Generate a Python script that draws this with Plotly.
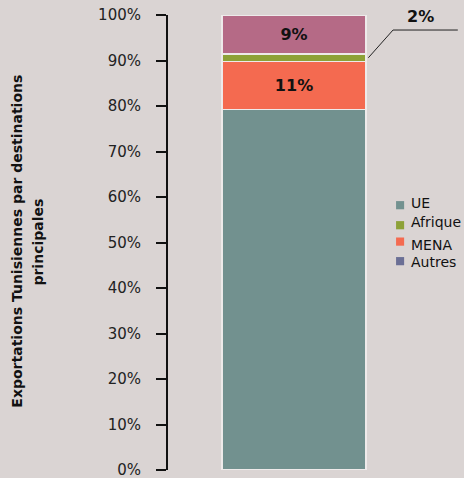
import plotly.graph_objects as go

# Share of Tunisian exports by main destination (%)
category = ["Exportations"]
segments = ["UE", "MENA", "Afrique", "Autres"]
values = [79.2, 10.6, 1.6, 8.6]
bar_colors = ["#72918f", "#f46a50", "#8da137", "#b56a86"]
legend_names = ["UE", "Afrique", "MENA", "Autres"]
legend_colors = ["#72918f", "#8da137", "#f46a50", "#6b6f95"]
labelled = {"MENA", "Autres"}
tick_vals = list(range(0, 101, 10))
tick_text = [f"{v}%" for v in tick_vals]
title_lines = ["Exportations Tunisiennes par destinations", "principales"]

bg = "#dad4d3"
fig = go.Figure()

for name, val, col in zip(segments, values, bar_colors):
    fig.add_trace(go.Bar(
        x=category, y=[val], name=name,
        marker=dict(color=col, line=dict(color="#eeeaea", width=1.5)),
        text=[f"{val:.0f}%"] if name in labelled else None,
        textposition="inside", insidetextanchor="middle",
        textfont=dict(family="DejaVu Sans", size=16, color="#111111", weight="bold"),
        width=0.57, showlegend=False, hoverinfo="skip",
    ))

# compact legend: small squares with labels
legend_sq_y = [0.582, 0.538, 0.502, 0.459]
legend_tx_y = [0.586, 0.544, 0.494, 0.457]
for name, col, sy, ty in zip(legend_names, legend_colors, legend_sq_y, legend_tx_y):
    fig.add_shape(type="rect", xref="paper", yref="paper",
                  x0=0.905, x1=0.937, y0=sy - 0.009, y1=sy + 0.009,
                  fillcolor=col, line=dict(width=0))
    fig.add_annotation(text=name, xref="paper", yref="paper", x=0.957, y=ty,
                       xanchor="left", yanchor="middle", showarrow=False,
                       font=dict(family="DejaVu Sans", size=14, color="#111111"))

# leader line for the small Afrique share
afr_mid = values[0] + values[1] + values[2] / 2
elbow_y = values[0] + values[1] + values[2] + 5.3
fig.add_shape(type="line", xref="paper", yref="y", x0=0.795, y0=afr_mid, x1=0.893, y1=elbow_y,
              line=dict(color="#222222", width=1))
fig.add_shape(type="line", xref="paper", yref="y", x0=0.893, y0=elbow_y, x1=1.15, y1=elbow_y,
              line=dict(color="#222222", width=1))
fig.add_annotation(x=1.063, y=elbow_y, xref="paper", yref="y", text=f"<b>{values[2]:.0f}%</b>",
                   showarrow=False, yanchor="bottom", yshift=2,
                   font=dict(family="DejaVu Sans", size=16, color="#111111"))

# vertical axis title, two lines
for line, xp in zip(title_lines, [-0.599, -0.516]):
    fig.add_annotation(
        text=f"<b>{line}</b>", xref="paper", yref="paper", x=xp, y=0.502,
        xanchor="center", yanchor="middle", textangle=-90, showarrow=False,
        font=dict(family="DejaVu Sans", size=14, color="#111111"),
    )

fig.update_layout(
    width=464, height=478, barmode="stack", showlegend=False,
    paper_bgcolor=bg, plot_bgcolor=bg,
    margin=dict(l=168, r=44, t=15, b=8, autoexpand=False),
    font=dict(family="DejaVu Sans", size=14, color="#222222"),
    xaxis=dict(range=[-0.5, 0.5], showticklabels=False, showgrid=False, zeroline=False,
               showline=False, fixedrange=True, automargin=False),
    yaxis=dict(range=[0, 100], tickvals=tick_vals, ticktext=tick_text, showgrid=False,
               zeroline=False, showline=True, linecolor="#111111", linewidth=2,
               ticks="outside", ticklen=10, tickwidth=2, tickcolor="#111111",
               ticklabelstandoff=12, tickfont=dict(size=15, color="#222222"),
               ticklabeloverflow="allow", automargin=False),
)

fig.write_html("out.html")
